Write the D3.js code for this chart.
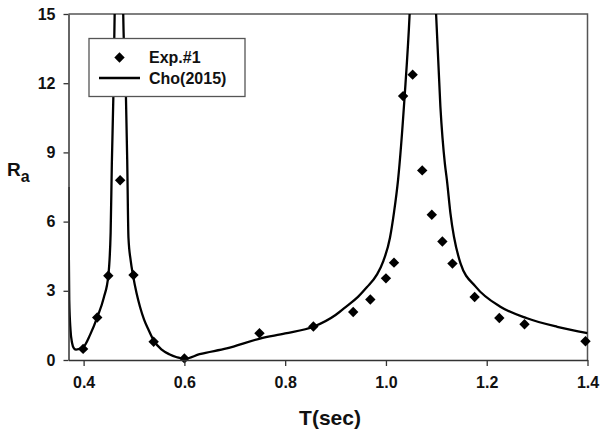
<!DOCTYPE html>
<html>
<head>
<meta charset="utf-8">
<script src="https://cdn.jsdelivr.net/npm/d3@7"></script>
<style>
  html, body { margin: 0; padding: 0; background: #fff; }
  svg { display: block; font-family: Arial, "Liberation Sans", sans-serif; }
</style>
</head>
<body>
<svg id="chart" width="601" height="433"></svg>
<script>
// Experimental response ratio (Exp.#1)
const expT  = [0.399, 0.427, 0.449, 0.4725, 0.499, 0.539, 0.600, 0.749, 0.856, 0.935, 0.969, 1.000, 1.016, 1.034, 1.053, 1.072, 1.091, 1.112, 1.132, 1.176, 1.225, 1.275, 1.396];
const expRa = [0.48, 1.84, 3.65, 7.79, 3.68, 0.79, 0.07, 1.16, 1.45, 2.08, 2.62, 3.54, 4.22, 11.44, 12.37, 8.22, 6.30, 5.14, 4.18, 2.73, 1.82, 1.55, 0.81];

// Analytical curve, Cho(2015)
const choT  = [0.370, 0.3705, 0.3715, 0.374, 0.377, 0.381, 0.385, 0.399, 0.413, 0.427, 0.440, 0.449, 0.4536, 0.456, 0.459, 0.4616, 0.470, 0.4786, 0.484, 0.4865, 0.489, 0.4935, 0.498, 0.505, 0.512, 0.520, 0.529, 0.539, 0.555, 0.570, 0.585, 0.600, 0.630, 0.684, 0.750, 0.800, 0.857, 0.900, 0.923, 0.945, 0.962, 0.982, 0.995, 1.008, 1.016, 1.024, 1.037, 1.047, 1.073, 1.0995, 1.108, 1.117, 1.121, 1.128, 1.148, 1.178, 1.227, 1.280, 1.340, 1.400];
const choRa = [7.5, 5.0, 2.6, 1.3, 0.75, 0.5, 0.45, 0.55, 1.1, 1.85, 2.7, 3.65, 5.5, 8.5, 11.4, 15.0, 35.0, 15.0, 11.4, 8.7, 5.3, 4.3, 3.68, 2.9, 2.3, 1.75, 1.3, 0.85, 0.45, 0.25, 0.12, 0.05, 0.25, 0.5, 0.93, 1.15, 1.45, 1.95, 2.35, 2.75, 3.15, 3.7, 4.3, 5.3, 6.4, 7.8, 11.4, 15.0, 35.0, 15.0, 11.0, 8.5, 7.8, 6.36, 4.19, 3.18, 2.31, 1.81, 1.44, 1.16];

const xTicks = [0.4, 0.6, 0.8, 1.0, 1.2, 1.4];
const yTicks = [0, 3, 6, 9, 12, 15];

const svg = d3.select("#chart");
const m = { left: 68.5, right: 587.5, top: 14, bottom: 360 };

const x = d3.scaleLinear().domain([0.37, 1.4]).range([m.left, m.right]);
const y = d3.scaleLinear().domain([0, 15]).range([m.bottom, m.top]);

svg.append("clipPath").attr("id", "plotClip")
  .append("rect")
  .attr("x", m.left).attr("y", m.top)
  .attr("width", m.right - m.left).attr("height", m.bottom - m.top);

// frame (top and right)
svg.append("path")
  .attr("d", `M${m.left},${m.top}H${m.right}V${m.bottom}`)
  .attr("fill", "none").attr("stroke", "#555").attr("stroke-width", 1.5);

// curve
const line = d3.line()
  .x((d, i) => x(choT[i]))
  .y((d, i) => y(choRa[i]))
  .curve(d3.curveMonotoneX);

svg.append("path")
  .datum(choT)
  .attr("clip-path", "url(#plotClip)")
  .attr("d", line)
  .attr("fill", "none")
  .attr("stroke", "#000")
  .attr("stroke-width", 2.3);

// experimental points
const diamond = d3.symbol().type(d3.symbolSquare).size(54);
svg.append("g")
  .selectAll("path")
  .data(expT)
  .join("path")
  .attr("d", diamond)
  .attr("transform", (d, i) => `translate(${x(expT[i])},${y(expRa[i])}) rotate(45)`)
  .attr("fill", "#000");

// axes
const xAxis = svg.append("g")
  .attr("transform", `translate(0,${m.bottom})`)
  .call(d3.axisBottom(x).tickValues(xTicks).tickFormat(d3.format(".1f")).tickSizeInner(6).tickSizeOuter(0));
const yAxis = svg.append("g")
  .attr("transform", `translate(${m.left},0)`)
  .call(d3.axisLeft(y).tickValues(yTicks).tickFormat(d3.format("d")).tickSizeInner(5).tickSizeOuter(0));

[xAxis, yAxis].forEach(g => {
  g.select(".domain").attr("stroke", "#333").attr("stroke-width", 1.5);
  g.selectAll(".tick line").attr("stroke", "#333").attr("stroke-width", 1.3);
  g.selectAll(".tick text")
    .attr("fill", "#111")
    .style("font-size", "16px")
    .style("font-weight", "bold")
    .style("font-family", "Arial, 'Liberation Sans', sans-serif");
});
xAxis.selectAll(".tick text").attr("dy", "0.71em").attr("y", 17);
yAxis.selectAll(".tick text").attr("x", -13);

// axis titles
svg.append("text")
  .attr("x", 330).attr("y", 425)
  .attr("text-anchor", "middle")
  .style("font-size", "21px").style("font-weight", "bold")
  .attr("fill", "#111")
  .text("T(sec)");

const ra = svg.append("text")
  .attr("x", 7).attr("y", 176)
  .style("font-size", "19px").style("font-weight", "bold")
  .attr("fill", "#111");
ra.append("tspan").text("R");
ra.append("tspan").attr("dy", 6).style("font-size", "16px").text("a");

// legend
const lg = svg.append("g");
lg.append("rect")
  .attr("x", 89).attr("y", 38.5).attr("width", 156).attr("height", 58)
  .attr("fill", "#fff").attr("stroke", "#555").attr("stroke-width", 1.3);
lg.append("path")
  .attr("d", d3.symbol().type(d3.symbolSquare).size(54))
  .attr("transform", "translate(119.5,57.5) rotate(45)")
  .attr("fill", "#000");
lg.append("line")
  .attr("x1", 99).attr("x2", 140).attr("y1", 78).attr("y2", 78)
  .attr("stroke", "#000").attr("stroke-width", 2.3);
lg.append("text").attr("x", 149).attr("y", 63)
  .style("font-size", "16px").style("font-weight", "bold").attr("fill", "#111")
  .text("Exp.#1");
lg.append("text").attr("x", 149).attr("y", 84)
  .style("font-size", "16px").style("font-weight", "bold").attr("fill", "#111")
  .text("Cho(2015)");
</script>
</body>
</html>
